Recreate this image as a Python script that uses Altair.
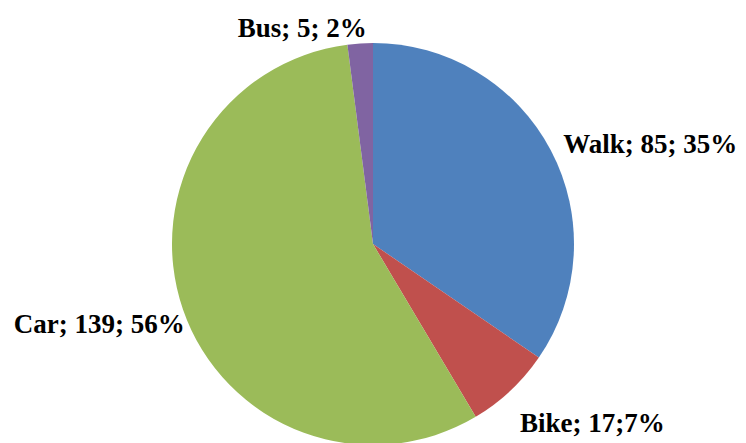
import altair as alt
import pandas as pd

# ---- data ----
categories = ["Walk", "Bike", "Car", "Bus"]
counts = [85, 17, 139, 5]
labels = ["Walk; 85; 35%", "Bike; 17;7%", "Car; 139; 56%", "Bus; 5; 2%"]
colors = ["#4F81BD", "#C0504D", "#9BBB59", "#8064A2"]

df = pd.DataFrame({"cat": categories, "n": counts, "label": labels,
                   "ord": list(range(len(categories)))})
total = sum(counts)

# ---- layout ----
W, H = 730, 435
CX, CY = 365, 236
R = 201
LABEL_R = 215
label_layout = {  # align, dx, dy
    "Walk": ("left", 0, 9),
    "Bike": ("left", 0, 31),
    "Car": ("right", 15, 19),
    "Bus": ("center", -57, 8),
}

base = alt.Chart(df).transform_stack(
    stack="n", groupby=[], as_=["v0", "v1"], sort=[alt.SortField("ord")]
).transform_calculate(mid="(datum.v0 + datum.v1) / 2")

theta_scale = alt.Scale(domain=[0, total])

arcs = base.mark_arc(outerRadius=R, stroke=None).encode(
    theta=alt.Theta("v0:Q", scale=theta_scale),
    theta2="v1:Q",
    color=alt.Color("cat:N", scale=alt.Scale(domain=categories, range=colors), legend=None),
    x=alt.value(CX),
    y=alt.value(CY),
)

layers = [arcs]
for cat in categories:
    align, dx, dy = label_layout[cat]
    t = base.transform_filter(alt.datum.cat == cat).mark_text(
        radius=LABEL_R, align=align, baseline="alphabetic", dx=dx, dy=dy,
        font="Liberation Serif", fontSize=27, fontWeight="bold", color="black",
    ).encode(
        theta=alt.Theta("mid:Q", scale=theta_scale),
        text="label:N",
        x=alt.value(CX),
        y=alt.value(CY),
    )
    layers.append(t)

chart = alt.layer(*layers).properties(
    width=W, height=H, padding=0, autosize=alt.AutoSizeParams(type="none")
).configure_view(stroke=None)

chart.save("out.html", embed_options={"renderer": "svg", "actions": False})
